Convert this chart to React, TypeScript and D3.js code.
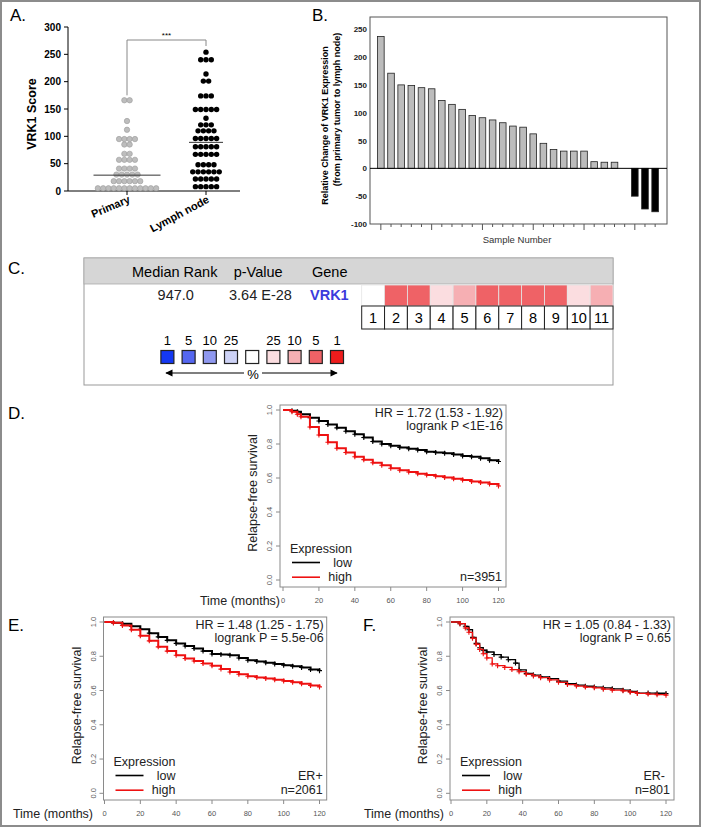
import React from 'react';
import * as d3 from 'd3';

const FONT = 'Liberation Sans, Arial, Helvetica, sans-serif';

// ---------- Panel A data ----------
const scoreGroups = ['Primary', 'Lymph node'];
const primaryScores = [166, 166, 128, 112, 95, 95, 95, 95, 85, 85, 68, 68, 57, 57, 57, 57, 41, 41, 41, 41, 30, 30, 30, 30, 30, 18, 18, 18, 18, 18, 18, 5, 5, 5, 5, 5, 5, 5, 5, 5, 5, 5, 5];
const lymphScores = [254, 240, 240, 240, 214, 201, 201, 174, 174, 174, 149, 149, 149, 149, 149, 133, 121, 121, 121, 110, 110, 110, 110, 96, 96, 96, 96, 96, 81, 81, 81, 81, 81, 67, 67, 67, 67, 67, 48, 48, 48, 48, 35, 35, 35, 35, 35, 35, 22, 22, 22, 22, 22, 8, 8, 8, 8, 8];
const scoreMeans = [29, 89];
const scoreTicks = [0, 50, 100, 150, 200, 250, 300];

// ---------- Panel B data ----------
const sampleChange = [237, 171, 150, 149, 145, 143, 122, 115, 106, 95, 91, 87, 82, 76, 74, 62, 45, 34, 31, 31, 31, 12, 11, 11, 0, -50, -73, -78];
const changeTicks = [-100, -50, 0, 50, 100, 150, 200, 250];

// ---------- Panel C data ----------
const rankHeaders = ['Median Rank', 'p-Value', 'Gene'];
const rankValues = ['947.0', '3.64 E-28', 'VRK1'];
const datasetIds = ['1', '2', '3', '4', '5', '6', '7', '8', '9', '10', '11'];
const datasetPct = [null, 5, 5, 25, 10, 5, 5, 5, 5, 25, 10];
const legendPct = [1, 5, 10, 25, null, 25, 10, 5, 1];
const legendSide = [-1, -1, -1, -1, 0, 1, 1, 1, 1];

// ---------- KM data (time months, survival) ----------
const kmTicksX = [0, 20, 40, 60, 80, 100, 120];
const kmTicksY = [0, 0.2, 0.4, 0.6, 0.8, 1.0];
const allLow: [number, number][] = [[0, 1.0], [5, 0.995], [8, 0.99], [10, 0.975], [15, 0.955], [20, 0.935], [25, 0.915], [30, 0.895], [35, 0.875], [40, 0.857], [45, 0.838], [50, 0.815], [55, 0.8], [60, 0.79], [65, 0.78], [70, 0.772], [75, 0.765], [80, 0.755], [85, 0.75], [90, 0.745], [95, 0.738], [100, 0.73], [105, 0.725], [110, 0.716], [115, 0.705], [120, 0.697]];
const allHigh: [number, number][] = [[0, 1.0], [5, 0.99], [8, 0.975], [10, 0.96], [15, 0.9], [20, 0.853], [25, 0.81], [30, 0.775], [35, 0.75], [40, 0.725], [45, 0.708], [50, 0.69], [55, 0.675], [60, 0.657], [65, 0.646], [70, 0.635], [75, 0.625], [80, 0.618], [85, 0.61], [90, 0.603], [95, 0.595], [100, 0.588], [105, 0.58], [110, 0.573], [115, 0.565], [120, 0.553]];
const erPosLow: [number, number][] = [[0, 1.0], [5, 0.995], [10, 0.99], [15, 0.975], [20, 0.957], [25, 0.935], [30, 0.913], [35, 0.893], [40, 0.875], [45, 0.86], [50, 0.845], [55, 0.83], [60, 0.813], [65, 0.81], [70, 0.806], [75, 0.79], [80, 0.777], [85, 0.77], [90, 0.762], [95, 0.755], [100, 0.748], [105, 0.742], [110, 0.735], [115, 0.722], [120, 0.716]];
const erPosHigh: [number, number][] = [[0, 1.0], [5, 0.995], [10, 0.98], [15, 0.955], [20, 0.92], [25, 0.89], [30, 0.855], [35, 0.83], [40, 0.806], [45, 0.787], [50, 0.772], [55, 0.758], [60, 0.745], [65, 0.725], [70, 0.708], [75, 0.695], [80, 0.683], [85, 0.676], [90, 0.67], [95, 0.663], [100, 0.656], [105, 0.648], [110, 0.64], [115, 0.63], [120, 0.621]];
const erNegLow: [number, number][] = [[0, 1.0], [5, 0.99], [8, 0.975], [10, 0.955], [12, 0.91], [14, 0.875], [16, 0.85], [18, 0.835], [20, 0.825], [24, 0.81], [28, 0.795], [32, 0.78], [36, 0.76], [38, 0.72], [42, 0.7], [46, 0.69], [50, 0.68], [55, 0.67], [60, 0.655], [65, 0.64], [70, 0.632], [75, 0.625], [80, 0.62], [85, 0.615], [90, 0.61], [96, 0.602], [100, 0.595], [104, 0.585], [110, 0.585], [115, 0.584], [120, 0.582]];
const erNegHigh: [number, number][] = [[0, 1.0], [5, 0.99], [8, 0.965], [10, 0.94], [12, 0.905], [14, 0.87], [16, 0.84], [18, 0.815], [20, 0.79], [23, 0.755], [26, 0.745], [30, 0.735], [34, 0.722], [38, 0.71], [42, 0.695], [46, 0.685], [50, 0.675], [55, 0.662], [60, 0.648], [65, 0.635], [70, 0.626], [75, 0.62], [80, 0.616], [85, 0.608], [90, 0.602], [96, 0.598], [100, 0.59], [104, 0.583], [110, 0.579], [115, 0.576], [120, 0.573]];

const blueShade: Record<number, string> = { 1: '#1438f2', 5: '#5567f0', 10: '#8f98ef', 25: '#cdd2f6' };
const redShade: Record<number, string> = { 1: '#ee1c1c', 5: '#ef6266', 10: '#f6afb3', 25: '#fbdde0' };
const shade = (side: number, pct: number | null) =>
  pct == null || side === 0 ? '#ffffff' : side < 0 ? blueShade[pct] : redShade[pct];

function PanelA() {
  const y = d3.scaleLinear().domain([0, 300]).range([191, 27]);
  const x = d3.scalePoint<string>().domain(scoreGroups).range([127, 206]);
  const d = 5.3;
  const swarm = (vals: number[], cx: number) => {
    const pts: { x: number; y: number }[] = [];
    for (const [v, arr] of d3.group(vals, (q) => q)) {
      const n = arr.length;
      arr.forEach((_, i) => pts.push({ x: cx + (i - (n - 1) / 2) * d, y: y(v) }));
    }
    return pts;
  };
  const p1 = swarm(primaryScores, x('Primary')!);
  const p2 = swarm(lymphScores, x('Lymph node')!);
  const meanHalf = [33.5, 17];
  const rot = [-23, -28];
  return (
    <g fontFamily={FONT}>
      <text x={10} y={21} fontSize={17}>A.</text>
      <line x1={68} x2={68} y1={y(300)} y2={y(0)} stroke="#000" />
      <line x1={68} x2={240} y1={y(0)} y2={y(0)} stroke="#000" />
      {scoreTicks.map((t) => (
        <g key={t}>
          <line x1={64} x2={68} y1={y(t)} y2={y(t)} stroke="#000" />
          <text x={61} y={y(t) + 3.5} fontSize={10} fontWeight="bold" textAnchor="end">{t}</text>
        </g>
      ))}
      {scoreGroups.map((g) => (
        <line key={g} x1={x(g)} x2={x(g)} y1={y(0)} y2={y(0) + 4} stroke="#000" />
      ))}
      <text transform={`translate(36,${y(150) + 5}) rotate(-90)`} fontSize={12.5} fontWeight="bold" textAnchor="middle">VRK1 Score</text>
      {p1.map((p, i) => (
        <circle key={'a' + i} cx={p.x} cy={p.y} r={2.7} fill="#bdbdbd" stroke="#9a9a9a" strokeWidth={0.6} />
      ))}
      {p2.map((p, i) => (
        <circle key={'b' + i} cx={p.x} cy={p.y} r={2.7} fill="#000" />
      ))}
      {scoreGroups.map((g, i) => (
        <line key={'m' + g} x1={x(g)! - meanHalf[i]} x2={x(g)! + meanHalf[i]} y1={y(scoreMeans[i])} y2={y(scoreMeans[i])} stroke="#333" strokeWidth={1} />
      ))}
      <path d={`M${x('Primary')},${y(175)} V40 H${x('Lymph node')} V46`} fill="none" stroke="#888" />
      <text x={(x('Primary')! + x('Lymph node')!) / 2} y={38} fontSize={8} textAnchor="middle">***</text>
      {scoreGroups.map((g, i) => (
        <text key={'l' + g} transform={`translate(${x(g)! + 4},202) rotate(${rot[i]})`} fontSize={11} fontWeight="bold" textAnchor="end">{g}</text>
      ))}
    </g>
  );
}

function PanelB() {
  const y = d3.scaleLinear().domain([-100, 272]).range([224, 17]);
  const x = d3.scaleBand<number>().domain(d3.range(sampleChange.length)).range([374, 662]).padding(0.35);
  const fl = 370, fr = 667, ft = 17, fb = 224;
  return (
    <g fontFamily={FONT}>
      <text x={312} y={21} fontSize={17}>B.</text>
      <rect x={fl} y={ft} width={fr - fl} height={fb - ft} fill="none" stroke="#555" strokeWidth={1} />
      {changeTicks.map((t) => (
        <text key={t} x={367} y={y(t) + 3} fontSize={8} fontWeight="bold" textAnchor="end" fill="#222">{t}</text>
      ))}
      {sampleChange.map((v, i) =>
        v === 0 ? null : (
          <rect key={i} x={x(i)} width={x.bandwidth()} y={y(Math.max(0, v))} height={Math.abs(y(v) - y(0))}
            fill={v > 0 ? '#bcbcbc' : '#000'} stroke="#222" strokeWidth={0.8} />
        )
      )}
      <line x1={fl} x2={fr} y1={y(0)} y2={y(0)} stroke="#000" strokeWidth={1} />
      {sampleChange.map((_, i) => (
        <line key={'t' + i} x1={x(i)! + x.bandwidth() / 2} x2={x(i)! + x.bandwidth() / 2} y1={fb} y2={fb + (i % 5 === 0 ? 6 : 3)} stroke="#555" />
      ))}
      <text x={517} y={243} fontSize={9.5} textAnchor="middle" fill="#333">Sample Number</text>
      <text transform={`translate(328,${(ft + fb) / 2 + 5}) rotate(-90)`} fontSize={9} fontWeight="bold" textAnchor="middle">Relative Change of VRK1 Expression</text>
      <text transform={`translate(340,${(ft + fb) / 2 - 11}) rotate(-90)`} fontSize={9} fontWeight="bold" textAnchor="middle">(from primary tumor to lymph node)</text>
    </g>
  );
}

function PanelC() {
  const bx = 84, bw = 529, by = 258;
  const cellX = d3.scaleBand<string>().domain(datasetIds).range([361.7, 613]);
  const legX = d3.scalePoint<number>().domain(d3.range(legendPct.length)).range([167.4, 337]);
  const headX = [132, 233.7, 312];
  const valX = [157.6, 229, 310];
  return (
    <g fontFamily={FONT}>
      <text x={8} y={274} fontSize={17}>C.</text>
      <rect x={bx} y={by} width={bw} height={127} fill="#fff" stroke="#999" />
      <rect x={bx} y={by} width={bw} height={26} fill="#d6d6d6" stroke="#aaa" strokeWidth={0.8} />
      {rankHeaders.map((h, i) => (
        <text key={h} x={headX[i]} y={277} fontSize={14.5}>{h}</text>
      ))}
      {rankValues.map((v, i) => (
        <text key={v} x={valX[i]} y={300} fontSize={14.5} fill={i === 2 ? '#3b3bdc' : '#222'} fontWeight={i === 2 ? 'bold' : 'normal'}>{v}</text>
      ))}
      {datasetIds.map((id, i) => (
        <g key={id}>
          <rect x={cellX(id)} y={285} width={cellX.bandwidth()} height={21} fill={shade(1, datasetPct[i])} stroke="#e4e4e4" strokeWidth={0.8} />
          <rect x={cellX(id)} y={306} width={cellX.bandwidth()} height={23} fill="#fff" stroke="#222" strokeWidth={1} />
          <text x={cellX(id)! + cellX.bandwidth() / 2} y={323} fontSize={14.5} textAnchor="middle">{id}</text>
        </g>
      ))}
      {legendPct.map((p, i) => (
        <g key={'lg' + i}>
          {p != null && <text x={legX(i)} y={345} fontSize={13} textAnchor="middle">{p}</text>}
          <rect x={legX(i)! - 6.5} y={350.5} width={13} height={13} fill={shade(legendSide[i], p)} stroke="#222" strokeWidth={1.2} />
        </g>
      ))}
      <defs>
        <marker id="arr" viewBox="0 0 10 10" refX={9} refY={5} markerWidth={8} markerHeight={6} orient="auto">
          <path d="M0,0 L10,5 L0,10 z" fill="#000" />
        </marker>
      </defs>
      <line x1={244} x2={166} y1={373} y2={373} stroke="#000" strokeWidth={1.2} markerEnd="url(#arr)" />
      <line x1={262} x2={337} y1={373} y2={373} stroke="#000" strokeWidth={1.2} markerEnd="url(#arr)" />
      <text x={253} y={379} fontSize={13} textAnchor="middle">%</text>
    </g>
  );
}

type KMProps = {
  label: string; labelX: number;
  fl: number; fr: number; ft: number; fb: number;
  x0: number; x1: number; y0: number; y1: number;
  low: [number, number][]; high: [number, number][];
  hr: string; lr: string; sub?: string; subRight?: number; n: string;
  timeRight: number; thinHigh?: boolean;
};

function KM(p: KMProps) {
  const x = d3.scaleLinear().domain([0, 120]).range([p.x0, p.x1]);
  const y = d3.scaleLinear().domain([0, 1]).range([p.y0, p.y1]);
  const line = d3.line<[number, number]>().x((d) => x(d[0])).y((d) => y(d[1])).curve(d3.curveStepAfter);
  const marks = (data: [number, number][], color: string, key: string) =>
    data.slice(1).map((d, i) => (
      <path key={key + i} d={`M${x(d[0]) - 2.5},${y(d[1])}h5M${x(d[0])},${y(d[1]) - 2.5}v5`} stroke={color} strokeWidth={1.1} />
    ));
  const { fl, fr, ft, fb } = p;
  const w = p.thinHigh ? 1.3 : 2;
  return (
    <g fontFamily={FONT}>
      <text x={p.labelX} y={ft + 14} fontSize={17}>{p.label}</text>
      <rect x={fl} y={ft} width={fr - fl} height={fb - ft} fill="none" stroke="#8a8a8a" />
      {kmTicksX.map((t) => (
        <g key={'x' + t}>
          <line x1={x(t)} x2={x(t)} y1={fb} y2={fb + 4} stroke="#8a8a8a" />
          <text x={x(t)} y={fb + 16} fontSize={7.5} textAnchor="middle" fill="#555">{t}</text>
        </g>
      ))}
      {kmTicksY.map((t) => (
        <g key={'y' + t}>
          <line x1={fl} x2={fl - 4} y1={y(t)} y2={y(t)} stroke="#8a8a8a" />
          <text transform={`translate(${fl - 8},${y(t)}) rotate(-90)`} fontSize={7.5} textAnchor="middle" fill="#555">{t.toFixed(1)}</text>
        </g>
      ))}
      <text transform={`translate(${fl - 23},${(ft + fb) / 2 - 3}) rotate(-90)`} fontSize={12.5} textAnchor="middle" fill="#222">Relapse-free survival</text>
      <text x={p.timeRight} y={fb + 18} fontSize={12.5} textAnchor="end" fill="#222">Time (months)</text>
      <path d={line(p.low)!} fill="none" stroke="#000" strokeWidth={w} />
      {marks(p.low, '#000', 'l')}
      <path d={line(p.high)!} fill="none" stroke="#ee1111" strokeWidth={w} />
      {marks(p.high, '#ee1111', 'h')}
      <text x={fr - 3} y={ft + 12} fontSize={12.5} textAnchor="end" fill="#222">{p.hr}</text>
      <text x={fr - 3} y={ft + 25} fontSize={12.5} textAnchor="end" fill="#222">{p.lr}</text>
      <text x={fl + 10} y={fb - 34} fontSize={12.5} fill="#222">Expression</text>
      <line x1={fl + 12} x2={fl + 40} y1={fb - 24.5} y2={fb - 24.5} stroke="#000" strokeWidth={1.6} />
      <text x={fl + 72} y={fb - 20} fontSize={12.5} textAnchor="end" fill="#222">low</text>
      <line x1={fl + 12} x2={fl + 40} y1={fb - 9.8} y2={fb - 9.8} stroke="#ee1111" strokeWidth={1.6} />
      <text x={fl + 72} y={fb - 6} fontSize={12.5} textAnchor="end" fill="#222">high</text>
      {p.sub && <text x={p.subRight} y={fb - 20} fontSize={12.5} textAnchor="end" fill="#222">{p.sub}</text>}
      <text x={fr - 4} y={fb - 6} fontSize={12.5} textAnchor="end" fill="#222">{p.n}</text>
    </g>
  );
}

export default function App() {
  return (
    <svg width={702} height={828} style={{ position: 'absolute', left: 0, top: 0, background: '#fff' }}>
      <rect x={0} y={0} width={702} height={828} fill="#fff" />
      <rect x={1} y={1} width={699} height={825} fill="none" stroke="#8c8c8c" strokeWidth={2} />
      <PanelA />
      <PanelB />
      <PanelC />
      <KM label="D." labelX={8} fl={280} fr={506} ft={405} fb={587} x0={283} x1={498.5} y0={580} y1={410}
        low={allLow} high={allHigh} hr="HR = 1.72 (1.53 - 1.92)" lr="logrank P <1E-16" n="n=3951" timeRight={280} />
      <KM label="E." labelX={8} fl={103.5} fr={326.7} ft={617} fb={800} x0={104.5} x1={319.5} y0={793.3} y1={622}
        low={erPosLow} high={erPosHigh} hr="HR = 1.48 (1.25 - 1.75)" lr="logrank P = 5.5e-06" sub="ER+" subRight={322.7} n="n=2061" timeRight={93} />
      <KM label="F." labelX={363} fl={450} fr={674} ft={617} fb={800} x0={451} x1={666} y0={793.3} y1={622}
        low={erNegLow} high={erNegHigh} hr="HR = 1.05 (0.84 - 1.33)" lr="logrank P = 0.65" sub="ER-" subRight={665} n="n=801" timeRight={444} thinHigh />
    </svg>
  );
}
